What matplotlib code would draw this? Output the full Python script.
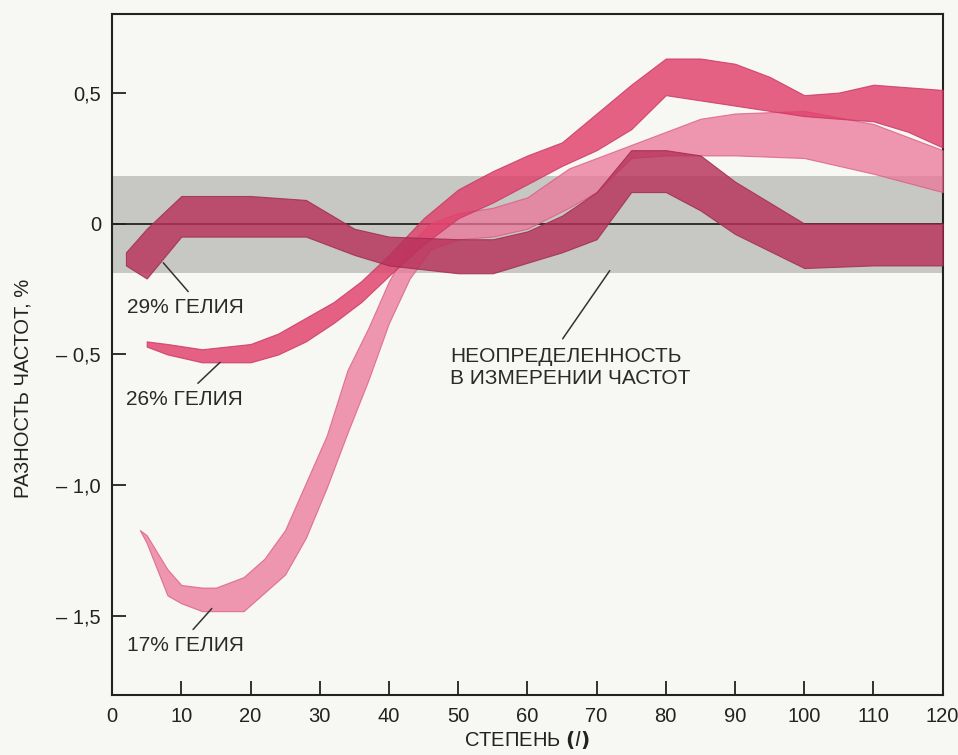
import matplotlib.pyplot as plt
import numpy as np

plt.rcParams['font.family'] = ['Liberation Sans', 'DejaVu Sans']

# полосы: степень l и границы (верх/низ) разности частот, %
l_29 = [2, 5, 10, 20, 28, 35, 40, 50, 55, 60, 65, 70, 75, 80, 85, 90, 100, 110, 120]
hi_29 = [-0.11, -0.02, 0.105, 0.105, 0.09, -0.02, -0.05, -0.06, -0.06, -0.03, 0.03, 0.12, 0.28, 0.28, 0.26, 0.16, 0.0, 0.0, 0.0]
lo_29 = [-0.16, -0.21, -0.05, -0.05, -0.05, -0.12, -0.16, -0.19, -0.19, -0.15, -0.11, -0.06, 0.12, 0.12, 0.05, -0.04, -0.17, -0.16, -0.16]

l_26 = [5, 8, 13, 20, 24, 28, 32, 36, 40, 45, 50, 55, 60, 65, 70, 75, 80, 85, 90, 95, 100, 105, 110, 115, 120]
hi_26 = [-0.45, -0.46, -0.48, -0.46, -0.42, -0.36, -0.30, -0.22, -0.12, 0.02, 0.13, 0.20, 0.26, 0.31, 0.42, 0.53, 0.63, 0.63, 0.61, 0.56, 0.49, 0.50, 0.53, 0.52, 0.51]
lo_26 = [-0.47, -0.50, -0.53, -0.53, -0.50, -0.45, -0.38, -0.30, -0.20, -0.08, 0.02, 0.08, 0.15, 0.22, 0.28, 0.36, 0.49, 0.47, 0.45, 0.43, 0.41, 0.40, 0.39, 0.35, 0.29]

l_17 = [4, 5, 8, 10, 13, 15, 19, 22, 25, 28, 31, 34, 37, 40, 43, 46, 50, 55, 60, 66, 70, 75, 80, 85, 90, 100, 110, 120]
hi_17 = [-1.17, -1.19, -1.32, -1.38, -1.39, -1.39, -1.35, -1.28, -1.17, -0.99, -0.81, -0.56, -0.40, -0.22, -0.08, 0.0, 0.04, 0.06, 0.10, 0.21, 0.25, 0.30, 0.35, 0.40, 0.42, 0.43, 0.38, 0.28]
lo_17 = [-1.17, -1.22, -1.42, -1.45, -1.48, -1.48, -1.48, -1.41, -1.34, -1.20, -1.01, -0.80, -0.60, -0.38, -0.21, -0.10, -0.06, -0.05, -0.02, 0.06, 0.12, 0.25, 0.26, 0.26, 0.26, 0.25, 0.19, 0.12]

# неопределенность
unc_hi = 0.18
unc_lo = -0.19

xticks = [0, 10, 20, 30, 40, 50, 60, 70, 80, 90, 100, 110, 120]
yticks = [0.5, 0, -0.5, -1.0, -1.5]
ytick_labels = ['0,5', '0', '– 0,5', '– 1,0', '– 1,5']

fig = plt.figure(figsize=(9.58, 7.55), dpi=100, facecolor='#f7f7f3')
ax = fig.add_axes([0.117, 0.0795, 0.867, 0.902])
ax.set_facecolor('#f7f7f3')

ax.axhspan(unc_lo, unc_hi, color='#c7c7c3', lw=0, zorder=1)
ax.axhline(0, color='#222222', lw=1.3, zorder=2)

ax.fill_between(l_17, lo_17, hi_17, facecolor='#ec7499', edgecolor='#d9587f', lw=0.8, alpha=0.75, zorder=3)
ax.fill_between(l_26, lo_26, hi_26, facecolor='#e03c68', edgecolor='#c93560', lw=0.8, alpha=0.8, zorder=4)
ax.fill_between(l_29, lo_29, hi_29, facecolor='#b8325c', edgecolor='#a02a50', lw=0.8, alpha=0.82, zorder=5)

ax.set_xlim(0, 120)
ax.set_ylim(-1.80, 0.80)
ax.set_xticks(xticks)
ax.set_yticks(yticks)
ax.set_yticklabels(ytick_labels)
ax.tick_params(direction='in', length=10, width=1.3, labelsize=14.5, colors='#222222', pad=8)
ax.tick_params(axis='x', pad=9)
for s in ax.spines.values():
    s.set_linewidth(1.5)
    s.set_color('#222222')

ax.set_xlabel(r'СТЕПЕНЬ $\mathbf{(}\mathit{l}\mathbf{)}$', fontsize=14.5, color='#222222')
ax.xaxis.set_label_coords(0.5, -0.05)
ax.set_ylabel('РАЗНОСТЬ ЧАСТОТ, %', fontsize=14.5, color='#222222')
ax.yaxis.set_label_coords(-0.096, 0.45)

# подписи и выноски
labels = ['29% ГЕЛИЯ', '26% ГЕЛИЯ', '17% ГЕЛИЯ', 'НЕОПРЕДЕЛЕННОСТЬ\nВ ИЗМЕРЕНИИ ЧАСТОТ']
label_pos = [(2.2, -0.32), (2.0, -0.67), (2.2, -1.61), (48.8, -0.55)]
leader_from = [(11.0, -0.26), (12.4, -0.61), (11.7, -1.55), (65.1, -0.44)]
leader_to = [(7.4, -0.15), (15.6, -0.53), (14.4, -1.47), (71.9, -0.18)]

for t, p, a, b in zip(labels, label_pos, leader_from, leader_to):
    ax.text(p[0], p[1], t, fontsize=15, color='#2a2a2a', ha='left', va='center',
            linespacing=1.2, zorder=6)
    ax.annotate('', xy=b, xytext=a, arrowprops=dict(arrowstyle='-', color='#333333', lw=1.1,
                                                    shrinkA=0, shrinkB=0), zorder=6)

fig.savefig('out.png', dpi=100, facecolor=fig.get_facecolor())
